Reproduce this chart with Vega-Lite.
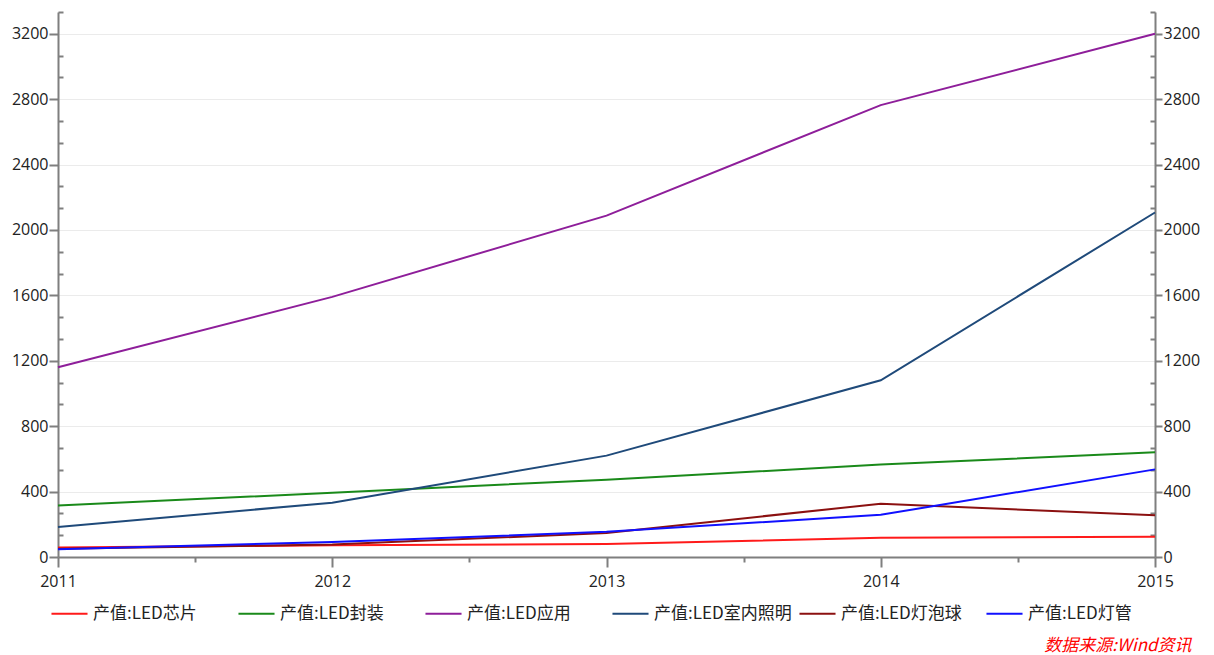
{
  "$schema": "https://vega.github.io/schema/vega-lite/v6.json",
  "autosize": "none",
  "width": 1097,
  "height": 545,
  "padding": {"left": 58, "top": 12, "right": 59, "bottom": 98},
  "background": "white",
  "config": {"view": {"stroke": null}},
  "title": {
    "text": "数据来源:Wind资讯",
    "orient": "bottom",
    "anchor": "end",
    "color": "#ff0000",
    "font": "Noto Sans CJK SC",
    "fontSize": 17,
    "fontStyle": "italic",
    "fontWeight": "normal",
    "dx": -8,
    "offset": 16
  },
  "data": {
    "values": [
      {"year": 2011, "series": "产值:LED芯片", "value": 58},
      {"year": 2012, "series": "产值:LED芯片", "value": 72},
      {"year": 2013, "series": "产值:LED芯片", "value": 80},
      {"year": 2014, "series": "产值:LED芯片", "value": 117},
      {"year": 2015, "series": "产值:LED芯片", "value": 124},
      {"year": 2011, "series": "产值:LED封装", "value": 315},
      {"year": 2012, "series": "产值:LED封装", "value": 393},
      {"year": 2013, "series": "产值:LED封装", "value": 473},
      {"year": 2014, "series": "产值:LED封装", "value": 565},
      {"year": 2015, "series": "产值:LED封装", "value": 641},
      {"year": 2011, "series": "产值:LED应用", "value": 1161},
      {"year": 2012, "series": "产值:LED应用", "value": 1591},
      {"year": 2013, "series": "产值:LED应用", "value": 2088},
      {"year": 2014, "series": "产值:LED应用", "value": 2764},
      {"year": 2015, "series": "产值:LED应用", "value": 3200},
      {"year": 2011, "series": "产值:LED室内照明", "value": 184},
      {"year": 2012, "series": "产值:LED室内照明", "value": 332},
      {"year": 2013, "series": "产值:LED室内照明", "value": 620},
      {"year": 2014, "series": "产值:LED室内照明", "value": 1081},
      {"year": 2015, "series": "产值:LED室内照明", "value": 2107},
      {"year": 2011, "series": "产值:LED灯泡球", "value": 50},
      {"year": 2012, "series": "产值:LED灯泡球", "value": 76},
      {"year": 2013, "series": "产值:LED灯泡球", "value": 147},
      {"year": 2014, "series": "产值:LED灯泡球", "value": 326},
      {"year": 2015, "series": "产值:LED灯泡球", "value": 255},
      {"year": 2011, "series": "产值:LED灯管", "value": 47},
      {"year": 2012, "series": "产值:LED灯管", "value": 92},
      {"year": 2013, "series": "产值:LED灯管", "value": 154},
      {"year": 2014, "series": "产值:LED灯管", "value": 258},
      {"year": 2015, "series": "产值:LED灯管", "value": 536}
    ]
  },
  "layer": [
    {
      "mark": {"type": "line", "strokeWidth": 2},
      "encoding": {
        "x": {
          "field": "year", "type": "quantitative",
          "scale": {"domain": [2011, 2015], "nice": false, "zero": false},
          "axis": {
            "title": null,
            "values": [2011, 2011.5, 2012, 2012.5, 2013, 2013.5, 2014, 2014.5, 2015],
            "labelExpr": "datum.value % 1 == 0 ? format(datum.value, 'd') : ''",
            "grid": false,
            "domainColor": "#7f7f7f",
            "domainWidth": 2,
            "tickColor": "#7f7f7f",
            "tickWidth": 2,
            "tickSize": {"condition": {"test": "datum.value % 1 == 0", "value": 10}, "value": 5},
            "labelPadding": 6,
            "labelFont": "Open Sans",
            "labelFontSize": 16,
            "labelColor": "#222222",
            "labelFlush": false,
            "labelOverlap": false
          }
        },
        "y": {
          "field": "value", "type": "quantitative",
          "scale": {"domain": [0, 3333.333], "nice": false},
          "axis": {
            "title": null,
            "orient": "left",
            "values": [0,133.333,266.667,400,533.333,666.667,800,933.333,1066.667,1200,1333.333,1466.667,1600,1733.333,1866.667,2000,2133.333,2266.667,2400,2533.333,2666.667,2800,2933.333,3066.667,3200,3333.333],
            "labelExpr": "abs(datum.value - round(datum.value/400)*400) < 1 ? format(round(datum.value), 'd') : ''",
            "grid": true,
            "gridColor": "#ebebeb",
            "gridWidth": 1,
            "gridOpacity": {"condition": {"test": "abs(datum.value - round(datum.value/400)*400) < 1 && datum.value > 1", "value": 1}, "value": 0},
            "domainColor": "#7f7f7f",
            "domainWidth": 2,
            "tickColor": "#7f7f7f",
            "tickWidth": 2,
            "tickSize": {"condition": {"test": "abs(datum.value - round(datum.value/400)*400) < 1", "value": 9}, "value": -5},
            "labelPadding": 1,
            "labelFont": "Open Sans",
            "labelFontSize": 16,
            "labelColor": "#222222",
            "labelOverlap": false,
            "labelBaseline": "middle"
          }
        },
        "color": {
          "field": "series", "type": "nominal",
          "scale": {
            "domain": ["产值:LED芯片", "产值:LED封装", "产值:LED应用", "产值:LED室内照明", "产值:LED灯泡球", "产值:LED灯管"],
            "range": ["#ff1a1a", "#1a8a1a", "#8e1e9a", "#1f4a7a", "#8b1010", "#1010ff"]
          },
          "legend": {
            "title": null,
            "orient": "none",
            "legendX": -8,
            "legendY": 582,
            "direction": "horizontal",
            "columns": 6,
            "gridAlign": "all",
            "symbolType": "stroke",
            "symbolSize": 1300,
            "symbolStrokeWidth": 2,
            "labelFont": "Noto Sans CJK SC",
            "labelFontSize": 17,
            "labelColor": "#222222",
            "labelOffset": 4,
            "labelLimit": 300,
            "columnPadding": 3
          }
        }
      }
    },
    {
      "mark": {"type": "line", "strokeWidth": 2, "opacity": 0},
      "encoding": {
        "x": {"field": "year", "type": "quantitative"},
        "y": {
          "field": "value", "type": "quantitative",
          "axis": {
            "title": null,
            "orient": "right",
            "values": [0,133.333,266.667,400,533.333,666.667,800,933.333,1066.667,1200,1333.333,1466.667,1600,1733.333,1866.667,2000,2133.333,2266.667,2400,2533.333,2666.667,2800,2933.333,3066.667,3200,3333.333],
            "labelExpr": "abs(datum.value - round(datum.value/400)*400) < 1 ? format(round(datum.value), 'd') : ''",
            "grid": false,
            "domainColor": "#7f7f7f",
            "domainWidth": 2,
            "tickColor": "#7f7f7f",
            "tickWidth": 2,
            "tickSize": {"condition": {"test": "abs(datum.value - round(datum.value/400)*400) < 1", "value": 7}, "value": -5},
            "labelPadding": 1,
            "labelFont": "Open Sans",
            "labelFontSize": 16,
            "labelColor": "#222222",
            "labelOverlap": false,
            "labelBaseline": "middle"
          }
        },
        "detail": {"field": "series", "type": "nominal"}
      }
    }
  ],
  "resolve": {"axis": {"y": "independent"}}
}
